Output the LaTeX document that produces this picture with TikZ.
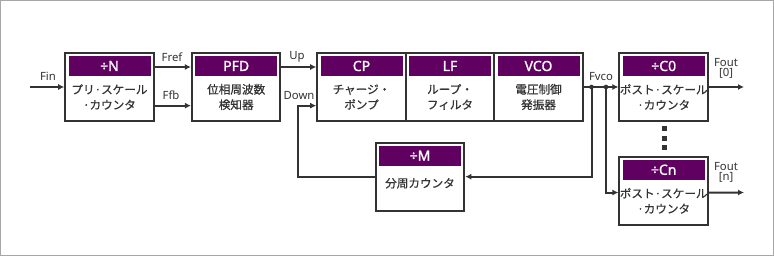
\documentclass[tikz,border=0pt]{standalone}
\usepackage{fontspec}
\setmainfont{Noto Sans CJK JP}
\newfontfamily\latinsans{Noto Sans}
\newfontfamily\headfont{Noto Sans}[FakeBold=1.3]
\newfontfamily\jpbody{Noto Sans CJK JP}[FakeBold=0.6]
\usetikzlibrary{arrows.meta,positioning,calc}
\definecolor{Plum}{HTML}{600060}
\definecolor{Ink}{HTML}{333333}
\definecolor{Frame}{HTML}{A6A6A6}

\begin{document}
\begin{tikzpicture}[x=0.75pt,y=-0.75pt,
  block/.style={draw=Ink,line width=1.5pt,fill=white,minimum width=66.4pt,minimum height=51pt,inner sep=0pt},
  head/.style={fill=Plum,text=white,font=\headfont\fontsize{10.5}{12}\selectfont,minimum width=61.5pt,minimum height=15pt,inner sep=0pt},
  body/.style={text=Ink,font=\jpbody\fontsize{8.7}{11.5}\selectfont,align=center,inner sep=0pt},
  sig/.style={text=Ink,font=\latinsans\fontsize{8.5}{8}\selectfont,align=center,inner sep=0pt},
  conn/.style={draw=Ink,line width=1.5pt,-{Latex[length=4.5pt,width=4.5pt]}},
  tap/.style={circle,fill=Ink,inner sep=0pt,minimum size=3.5pt},
  ellip/.style={fill=Ink,inner sep=0pt,minimum size=3.75pt}]
  \useasboundingbox (0,0) rectangle (774,256);
  \draw[draw=Frame,line width=1.1pt] (0.75,0.75) rectangle (773.25,255.25);

  % blocks
  \node[block] (N) at (109.5,87) {};
  \node[head] (Nh) at (109.5,66) {÷N};
  \node[body] (Nb) at (109.5,97) {プリ·スケール\\·カウンタ};

  \node[block] (PFD) at (236.2,87) {};
  \node[head] (PFDh) at (236.2,66) {PFD};
  \node[body] (PFDb) at (236.2,97) {位相周波数\\検知器};

  \node[block] (CP) at (361.5,87) {};
  \node[head] (CPh) at (361.5,66) {CP};
  \node[body] (CPb) at (361.5,97) {チャージ・\\ポンプ};

  \node[block] (LF) at (450,87) {};
  \node[head] (LFh) at (450,66) {LF};
  \node[body] (LFb) at (450,97) {ループ・\\フィルタ};

  \node[block] (VCO) at (538.5,87) {};
  \node[head] (VCOh) at (538.5,66) {VCO};
  \node[body] (VCOb) at (538.5,97) {電圧制御\\発振器};

  \node[block] (C0) at (663.7,87) {};
  \node[head] (C0h) at (663.7,66) {÷C0};
  \node[body] (C0b) at (663.7,97) {ポスト·スケール\\·カウンタ};

  \node[block] (Cn) at (663.7,190.8) {};
  \node[head] (Cnh) at (663.7,169.8) {÷Cn};
  \node[body] (Cnb) at (663.7,200.8) {ポスト·スケール\\·カウンタ};

  \node[block] (M) at (420,176.7) {};
  \node[head] (Mh) at (420,155.7) {÷M};
  \node[body] (Mb) at (420,183.3) {分周カウンタ};

  % vertical ellipsis between C0 and Cn
  \foreach \y/\k in {129/1,138.5/2,148/3}
    \node[ellip] (dot\k) at (664,\y) {};

  % free ends and taps
  \coordinate (fin) at (30,87);
  \coordinate (fout0) at (744,87);
  \coordinate (foutn) at (744,192.5);
  \coordinate (dn) at (297.5,176.7);
  \node[tap] (tap1) at (591.5,87) {};
  \node[tap] (tap2) at (606,87) {};

  % connectors
  \draw[conn] (fin) -- (N.west);
  \draw[conn] ([yshift=15pt]N.east) -- ([yshift=15pt]PFD.west);
  \draw[conn] ([yshift=-14pt]N.east) -- ([yshift=-14pt]PFD.west);
  \draw[conn] ([yshift=15pt]PFD.east) -- ([yshift=15pt]CP.west);
  \draw[conn] (M.west) -- (dn) |- ([yshift=-14pt]CP.west);
  \draw[conn] (VCO.east) -- (C0.west);
  \draw[conn] (tap1.center) |- (M.east);
  \draw[conn] (tap2.center) |- ([yshift=-1.3pt]Cn.west);
  \draw[conn] (C0.east) -- (fout0);
  \draw[conn] ([yshift=-1.3pt]Cn.east) -- (foutn);

  % signal labels
  \node[sig] (lfin) at (48,76.5) {Fin};
  \node[sig] (lfref) at (172,57) {Fref};
  \node[sig] (lffb) at (171,95.5) {Ffb};
  \node[sig] (lup) at (297,57) {Up};
  \node[sig] (ldown) at (299,95.5) {Down};
  \node[sig] (lfvco) at (601,77) {Fvco};
  \node[sig] (lfout0) at (726,68.5) {Fout\\{[0]}};
  \node[sig] (lfoutn) at (726,172.5) {Fout\\{[n]}};
\end{tikzpicture}
\end{document}
